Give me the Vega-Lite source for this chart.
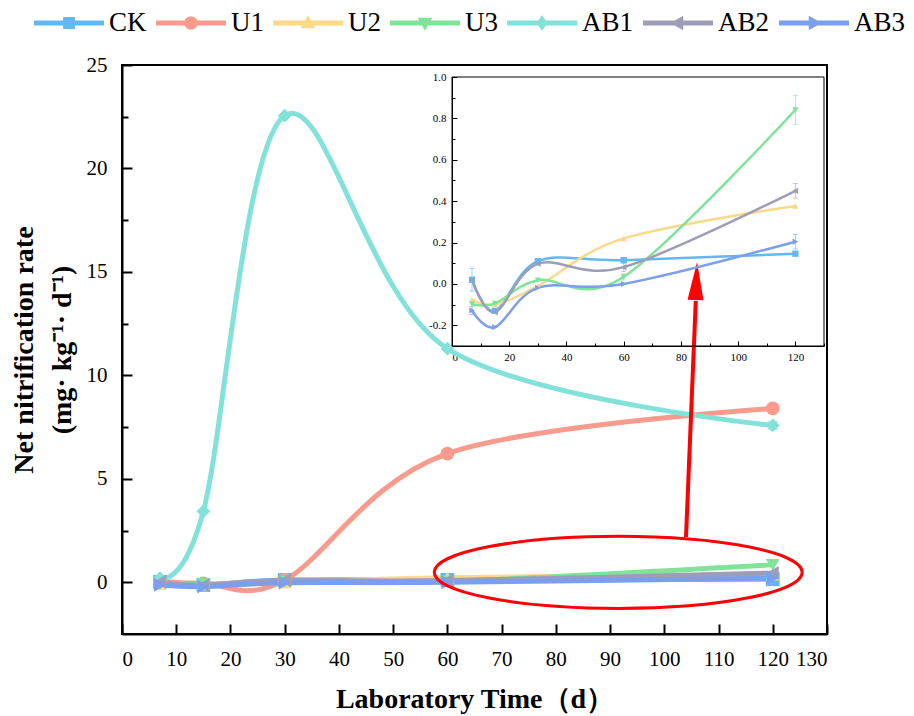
{
  "$schema": "https://vega.github.io/schema/vega-lite/v6.json",
  "autosize": "none",
  "width": 705,
  "height": 569,
  "padding": {"left": 122, "top": 65, "right": 87, "bottom": 82},
  "background": "white",
  "config": {
    "view": {"stroke": "black", "strokeWidth": 2},
    "axis": {"grid": false, "labelFont": "Liberation Serif", "titleFont": "Liberation Serif", "labelColor": "black", "titleColor": "black", "domainColor": "black", "tickColor": "black"},
    "legend": {"labelFont": "Liberation Serif"}
  },
  "datasets": {
    "d": [
      {"t": 7, "g": "CK", "v": 0.02, "e": 0.055},
      {"t": 15, "g": "CK", "v": -0.13, "e": 0},
      {"t": 30, "g": "CK", "v": 0.11, "e": 0},
      {"t": 60, "g": "CK", "v": 0.115, "e": 0},
      {"t": 120, "g": "CK", "v": 0.146, "e": 0},
      {"t": 7, "g": "U1", "v": 0.05, "e": 0},
      {"t": 15, "g": "U1", "v": -0.05, "e": 0},
      {"t": 30, "g": "U1", "v": 0.1, "e": 0},
      {"t": 60, "g": "U1", "v": 6.22, "e": 0},
      {"t": 120, "g": "U1", "v": 8.4, "e": 0},
      {"t": 7, "g": "U2", "v": -0.076, "e": 0},
      {"t": 15, "g": "U2", "v": -0.1, "e": 0},
      {"t": 30, "g": "U2", "v": -0.01, "e": 0},
      {"t": 60, "g": "U2", "v": 0.22, "e": 0},
      {"t": 120, "g": "U2", "v": 0.377, "e": 0},
      {"t": 7, "g": "U3", "v": -0.097, "e": 0},
      {"t": 15, "g": "U3", "v": -0.095, "e": 0},
      {"t": 30, "g": "U3", "v": 0.018, "e": 0},
      {"t": 60, "g": "U3", "v": 0.034, "e": 0.015},
      {"t": 120, "g": "U3", "v": 0.841, "e": 0.07},
      {"t": 7, "g": "AB1", "v": 0.2, "e": 0},
      {"t": 15, "g": "AB1", "v": 3.43, "e": 0},
      {"t": 30, "g": "AB1", "v": 22.55, "e": 0},
      {"t": 60, "g": "AB1", "v": 11.29, "e": 0},
      {"t": 120, "g": "AB1", "v": 7.58, "e": 0.18},
      {"t": 7, "g": "AB2", "v": 0.02, "e": 0},
      {"t": 15, "g": "AB2", "v": -0.137, "e": 0},
      {"t": 30, "g": "AB2", "v": 0.097, "e": 0},
      {"t": 60, "g": "AB2", "v": 0.081, "e": 0.02},
      {"t": 120, "g": "AB2", "v": 0.45, "e": 0.035},
      {"t": 7, "g": "AB3", "v": -0.128, "e": 0.02},
      {"t": 15, "g": "AB3", "v": -0.209, "e": 0},
      {"t": 30, "g": "AB3", "v": -0.019, "e": 0},
      {"t": 60, "g": "AB3", "v": 0.0, "e": 0},
      {"t": 120, "g": "AB3", "v": 0.204, "e": 0.035}
    ],
    "ann": [
      {"k": "ellipse", "x": 91.5, "y": 0.48},
      {"k": "shaft", "x": 104.0, "y": 2.19, "x2": 105.8, "y2": 13.6},
      {"k": "head", "x": 105.9, "y": 14.56}
    ]
  },
  "layer": [
    {
      "layer": [
        {
          "data": {"name": "d"},
          "encoding": {
            "x": {"field": "t", "type": "quantitative", "scale": {"domain": [0, 130], "nice": false, "zero": false},
              "axis": {"orient": "bottom", "values": [0,5,10,15,20,25,30,35,40,45,50,55,60,65,70,75,80,85,90,95,100,105,110,115,120,125,130],
                "labelExpr": "datum.value % 10 === 0 ? datum.label : ''",
                "tickSize": {"condition": {"test": "datum.value % 10 === 0", "value": -10}, "value": -6},
                "tickWidth": 2, "domainWidth": 2, "labelFontSize": 21, "labelPadding": 24,
                "title": "Laboratory Time（d）", "titleFontSize": 28, "titleFontWeight": "bold", "titlePadding": 16}},
            "y": {"field": "v", "type": "quantitative", "scale": {"domain": [-2.5, 25], "nice": false, "zero": false},
              "axis": {"orient": "left", "values": [0,2.5,5,7.5,10,12.5,15,17.5,20,22.5,25],
                "labelExpr": "datum.value % 5 === 0 ? datum.label : ''",
                "tickSize": {"condition": {"test": "datum.value % 5 === 0", "value": -10}, "value": -6},
                "tickWidth": 2, "domainWidth": 2, "labelFontSize": 21, "labelPadding": 25,
                "title": ["Net nitrification rate", "(mg· kg⁻¹· d⁻¹)"], "titleFontSize": 28, "titleFontWeight": "bold", "titlePadding": 10, "titleLineHeight": 38}},
            "color": {"field": "g", "type": "nominal",
              "scale": {"domain": ["CK", "U1", "U2", "U3", "AB1", "AB2", "AB3"], "range": ["#63B8F4", "#F89A8C", "#FBD88A", "#7FE39A", "#82E2DA", "#9D9DB8", "#7C9EEE"]},
              "legend": {"orient": "none", "legendX": -88, "legendY": -77, "direction": "horizontal", "title": null,
                "symbolSize": 4900, "labelFontSize": 27, "labelOffset": 5, "columnPadding": 9, "padding": 0, "labelColor": "black",
                "encode": {"symbols": {"update": {
                  "shape": {"signal": "datum.value==='CK'?'M-1,-0.07H1V0.07H-1Z M-0.17,-0.17H0.17V0.17H-0.17Z':datum.value==='U1'?'M-1,-0.07H1V0.07H-1Z M-0.19,0A0.19,0.19 0 1,1 0.19,0A0.19,0.19 0 1,1 -0.19,0Z':datum.value==='U2'?'M-1,-0.07H1V0.07H-1Z M0,-0.22L0.21,0.15L-0.21,0.15Z':datum.value==='U3'?'M-1,-0.07H1V0.07H-1Z M-0.21,-0.15L0.21,-0.15L0,0.22Z':datum.value==='AB1'?'M-1,-0.07H1V0.07H-1Z M0,-0.22L0.16,0L0,0.22L-0.16,0Z':datum.value==='AB2'?'M-1,-0.07H1V0.07H-1Z M-0.22,0L0.15,-0.21L0.15,0.21Z':'M-1,-0.07H1V0.07H-1Z M0.22,0L-0.15,0.21L-0.15,-0.21Z'"},
                  "fill": {"signal": "scale('color', datum.value)"},
                  "stroke": {"value": "transparent"},
                  "strokeWidth": {"value": 0},
                  "opacity": {"value": 1}
                }}}}}
          },
          "layer": [
            {"mark": {"type": "line", "interpolate": "cardinal", "strokeWidth": 5, "strokeCap": "round"}},
            {
              "mark": {"type": "point", "filled": true, "opacity": 1, "size": 190},
              "encoding": {
                "shape": {"condition": [
                  {"test": "datum.g === 'CK'", "value": "square"},
                  {"test": "datum.g === 'U1'", "value": "circle"},
                  {"test": "datum.g === 'U2'", "value": "triangle-up"},
                  {"test": "datum.g === 'U3'", "value": "triangle-down"},
                  {"test": "datum.g === 'AB1'", "value": "diamond"},
                  {"test": "datum.g === 'AB2'", "value": "triangle-left"}
                ], "value": "triangle-right"}
              }
            },
            {
              "transform": [{"filter": "datum.e > 0.1"}],
              "mark": {"type": "errorbar", "ticks": {"size": 10}, "thickness": 1.5},
              "encoding": {"yError": {"field": "e"}}
            }
          ]
        },
        {
          "data": {"name": "ann"},
          "transform": [{"filter": "datum.k === 'ellipse'"}],
          "mark": {"type": "point", "shape": "M-1,0A1,0.196 0 1,0 1,0A1,0.196 0 1,0 -1,0Z", "size": 135424, "filled": false, "stroke": "#FF0000", "strokeWidth": 3, "opacity": 1},
          "encoding": {
            "x": {"field": "x", "type": "quantitative", "title": "Laboratory Time（d）"},
            "y": {"field": "y", "type": "quantitative", "title": ["Net nitrification rate", "(mg· kg⁻¹· d⁻¹)"]}
          }
        },
        {
          "data": {"name": "ann"},
          "transform": [{"filter": "datum.k === 'shaft'"}],
          "mark": {"type": "rule", "color": "#FF0000", "strokeWidth": 4},
          "encoding": {
            "x": {"field": "x", "type": "quantitative", "title": "Laboratory Time（d）"},
            "y": {"field": "y", "type": "quantitative", "title": ["Net nitrification rate", "(mg· kg⁻¹· d⁻¹)"]},
            "x2": {"field": "x2"},
            "y2": {"field": "y2"}
          }
        },
        {
          "data": {"name": "ann"},
          "transform": [{"filter": "datum.k === 'head'"}],
          "mark": {"type": "point", "shape": "M0,-1L0.42,1L-0.42,1Z", "size": 1444, "filled": true, "color": "#FF0000", "opacity": 1, "angle": 2.3},
          "encoding": {
            "x": {"field": "x", "type": "quantitative", "title": "Laboratory Time（d）"},
            "y": {"field": "y", "type": "quantitative", "title": ["Net nitrification rate", "(mg· kg⁻¹· d⁻¹)"]}
          }
        }
      ]
    },
    {
      "layer": [
        {
          "data": {"values": [{}]},
          "mark": {"type": "rect", "fill": "white", "fillOpacity": 0, "stroke": "black", "strokeWidth": 1},
          "encoding": {
            "x": {"datum": 0, "type": "quantitative"},
            "x2": {"datum": 130},
            "y": {"datum": -0.3, "type": "quantitative"},
            "y2": {"datum": 1.0}
          }
        },
        {
          "data": {"name": "d"},
          "transform": [{"filter": "datum.g !== 'U1' && datum.g !== 'AB1'"}],
          "encoding": {
            "x": {"field": "t", "type": "quantitative", "scale": {"domain": [0, 130], "range": [330, 702], "nice": false, "zero": false},
              "axis": {"orient": "bottom", "offset": -288, "values": [0,10,20,30,40,50,60,70,80,90,100,110,120,130],
                "labelExpr": "datum.value % 20 === 0 ? datum.label : ''",
                "tickSize": {"condition": {"test": "datum.value % 20 === 0", "value": -5}, "value": -3},
                "tickWidth": 1, "domainWidth": 1, "labelFontSize": 11, "labelPadding": 10, "title": null}},
            "y": {"field": "v", "type": "quantitative", "scale": {"domain": [-0.3, 1.0], "range": [281, 12], "nice": false, "zero": false},
              "axis": {"orient": "left", "offset": -330, "values": [-0.2,-0.1,0,0.1,0.2,0.3,0.4,0.5,0.6,0.7,0.8,0.9,1.0],
                "labelExpr": "round(datum.value*10) % 2 === 0 ? replace(format(datum.value, '.1f'), '−', '-') : ''",
                "tickSize": {"condition": {"test": "round(datum.value*10) % 2 === 0", "value": -5}, "value": -3},
                "tickWidth": 1, "domainWidth": 1, "labelFontSize": 11, "labelPadding": 11, "title": null}},
            "color": {"field": "g", "type": "nominal", "legend": null}
          },
          "layer": [
            {"mark": {"type": "line", "interpolate": "cardinal", "strokeWidth": 2.5, "strokeCap": "round"}},
            {
              "mark": {"type": "point", "filled": true, "opacity": 1, "size": 40},
              "encoding": {
                "shape": {"condition": [
                  {"test": "datum.g === 'CK'", "value": "square"},
                  {"test": "datum.g === 'U1'", "value": "circle"},
                  {"test": "datum.g === 'U2'", "value": "triangle-up"},
                  {"test": "datum.g === 'U3'", "value": "triangle-down"},
                  {"test": "datum.g === 'AB1'", "value": "diamond"},
                  {"test": "datum.g === 'AB2'", "value": "triangle-left"}
                ], "value": "triangle-right"}
              }
            },
            {
              "transform": [{"filter": "datum.e > 0"}],
              "mark": {"type": "errorbar", "ticks": {"size": 5}, "thickness": 1, "opacity": 0.6},
              "encoding": {"yError": {"field": "e"}}
            }
          ]
        }
      ]
    }
  ],
  "resolve": {"scale": {"x": "independent", "y": "independent"}}
}
